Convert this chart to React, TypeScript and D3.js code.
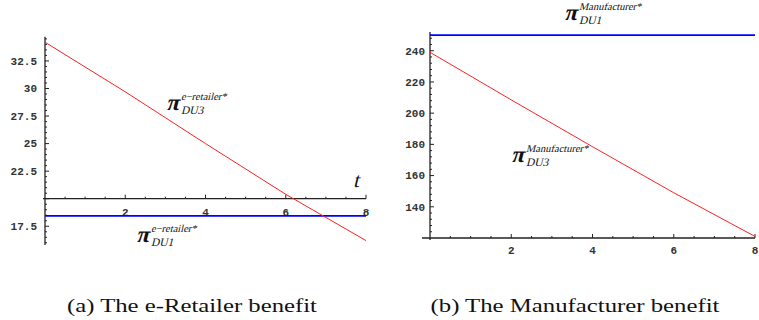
import React from "react";
import * as d3 from "d3";

// ---- data ----
const tValues = [0, 2, 4, 6, 8];
const retailerDU3 = [34.2, 29.7, 25.0, 20.4, 16.2];
const retailerDU1 = [18.45, 18.45, 18.45, 18.45, 18.45];
const manufacturerDU3 = [239, 208.5, 178.5, 149, 121];
const manufacturerDU1 = [250, 250, 250, 250, 250];

const xTickLabels = [2, 4, 6, 8];
const leftYTickLabels = [17.5, 22.5, 25, 27.5, 30, 32.5];
const rightYTickLabels = [140, 160, 180, 200, 220, 240];

const captions = ["(a) The e-Retailer benefit", "(b) The Manufacturer benefit"];

const W = 759;
const H = 320;

const tickStyle: React.CSSProperties = {
  fontFamily: "Liberation Mono",
  fontWeight: "bold",
  fontSize: "11px",
};
const serifStyle: React.CSSProperties = {
  fontFamily: "Liberation Serif",
  fontStyle: "normal",
};
const capStyle: React.CSSProperties = {
  fontFamily: "Liberation Serif",
  fontSize: "18px",
};

function range(a: number, b: number, s: number) {
  const out: number[] = [];
  for (let v = a; v <= b + 1e-9; v += s) out.push(+v.toFixed(4));
  return out;
}

// synthesized italic: upright serif glyphs sheared
function Ital({ x, y, size, bold, children }: { x: number; y: number; size: number; bold?: boolean; children: React.ReactNode }) {
  return (
    <g transform={`translate(${x},${y}) skewX(-14)`}>
      <text x={0} y={0} style={{ ...serifStyle, fontSize: `${size}px`, fontWeight: bold ? "bold" : "normal" }} fill="#111">
        {children}
      </text>
    </g>
  );
}

function PiLabel({ x, y, sup, sub }: { x: number; y: number; sup: string; sub: string }) {
  return (
    <g>
      <Ital x={x} y={y} size={23} bold>π</Ital>
      <Ital x={x + 15} y={y - 10} size={10.5}>{sup}</Ital>
      <Ital x={x + 15} y={y + 4} size={11.5}>{sub}</Ital>
    </g>
  );
}

export default function App() {
  const xL = d3.scaleLinear().domain([0, 8]).range([45, 366]);
  const yL = d3.scaleLinear().domain([15.8, 34.7]).range([245, 36.7]);
  const xR = d3.scaleLinear().domain([0, 8]).range([430, 755]);
  const yR = d3.scaleLinear().domain([120, 252]).range([238, 32]);

  const lineL = (vals: number[]) =>
    d3.line<number>().x((_, i) => xL(tValues[i])).y((v) => yL(v))(vals) || "";
  const lineR = (vals: number[]) =>
    d3.line<number>().x((_, i) => xR(tValues[i])).y((v) => yR(v))(vals) || "";

  const axisColor = "#222";
  const yAxisL = yL(20);
  const yAxisR = yR(120);

  const xMinor = range(0.5, 8, 0.5);
  const leftYMinor = range(16, 34.5, 0.5);
  const rightYMinor = range(124, 248, 4);

  const isMajorL = (v: number) => Math.abs(v / 2.5 - Math.round(v / 2.5)) < 1e-6;
  const isMajorR = (v: number) => v % 20 === 0;
  const isMajorX = (v: number) => v % 2 === 0;

  return (
    <svg width={W} height={H} style={{ position: "absolute", left: 0, top: 0, background: "#fff" }}>
      <rect width={W} height={H} fill="#fff" />

      {/* ---------- LEFT PANEL ---------- */}
      <g>
        <line x1={43} x2={xL(8)} y1={yAxisL} y2={yAxisL} stroke={axisColor} strokeWidth={1.3} />
        <line x1={xL(0)} x2={xL(0)} y1={yL(34.7)} y2={yL(15.8)} stroke={axisColor} strokeWidth={1.3} />
        {xMinor.map((v) => (
          <line key={"lx" + v} x1={xL(v)} x2={xL(v)} y1={yAxisL} y2={yAxisL - (isMajorX(v) ? 4 : 2)} stroke={axisColor} strokeWidth={1} />
        ))}
        {leftYMinor.map((v) => (
          <line key={"ly" + v} x1={xL(0)} x2={xL(0) + (isMajorL(v) ? 4 : 2)} y1={yL(v)} y2={yL(v)} stroke={axisColor} strokeWidth={1} />
        ))}
        {xTickLabels.map((v) => (
          <text key={"lxl" + v} x={xL(v)} y={yAxisL + 13} dy="0.35em" textAnchor="middle" style={tickStyle} fill="#333">
            {v}
          </text>
        ))}
        {leftYTickLabels.map((v) => (
          <text key={"lyl" + v} x={37} y={yL(v)} dy="0.35em" textAnchor="end" style={tickStyle} fill="#333">
            {v}
          </text>
        ))}
        <path d={lineL(retailerDU1)} fill="none" stroke="#0000ff" strokeWidth={1.7} />
        <path d={lineL(retailerDU3)} fill="none" stroke="#ff2020" strokeWidth={1} />
        <Ital x={353} y={187} size={21}>t</Ital>
        <PiLabel x={166} y={110} sup="e−retailer*" sub="DU3" />
        <PiLabel x={136} y={242} sup="e−retailer*" sub="DU1" />
        <text x={192} y={312} textAnchor="middle" style={capStyle} textLength={250} lengthAdjust="spacingAndGlyphs" fill="#111">
          {captions[0]}
        </text>
      </g>

      {/* ---------- RIGHT PANEL ---------- */}
      <g>
        <line x1={422} x2={xR(8)} y1={yAxisR} y2={yAxisR} stroke={axisColor} strokeWidth={1.3} />
        <line x1={xR(0)} x2={xR(0)} y1={yR(252)} y2={yAxisR + 2} stroke={axisColor} strokeWidth={1.3} />
        {xMinor.map((v) => (
          <line key={"rx" + v} x1={xR(v)} x2={xR(v)} y1={yAxisR} y2={yAxisR - (isMajorX(v) ? 4 : 2)} stroke={axisColor} strokeWidth={1} />
        ))}
        {rightYMinor.map((v) => (
          <line key={"ry" + v} x1={xR(0)} x2={xR(0) + (isMajorR(v) ? 4 : 2)} y1={yR(v)} y2={yR(v)} stroke={axisColor} strokeWidth={1} />
        ))}
        {xTickLabels.map((v) => (
          <text key={"rxl" + v} x={xR(v)} y={yAxisR + 12} dy="0.35em" textAnchor="middle" style={tickStyle} fill="#333">
            {v}
          </text>
        ))}
        {rightYTickLabels.map((v) => (
          <text key={"ryl" + v} x={425} y={yR(v)} dy="0.35em" textAnchor="end" style={tickStyle} fill="#333">
            {v}
          </text>
        ))}
        <path d={lineR(manufacturerDU1)} fill="none" stroke="#0000ff" strokeWidth={1.7} />
        <path d={lineR(manufacturerDU3)} fill="none" stroke="#ff2020" strokeWidth={1} />
        <PiLabel x={564} y={20} sup="Manufacturer*" sub="DU1" />
        <PiLabel x={511} y={162} sup="Manufacturer*" sub="DU3" />
        <text x={575} y={312} textAnchor="middle" style={capStyle} textLength={289} lengthAdjust="spacingAndGlyphs" fill="#111">
          {captions[1]}
        </text>
      </g>
    </svg>
  );
}
